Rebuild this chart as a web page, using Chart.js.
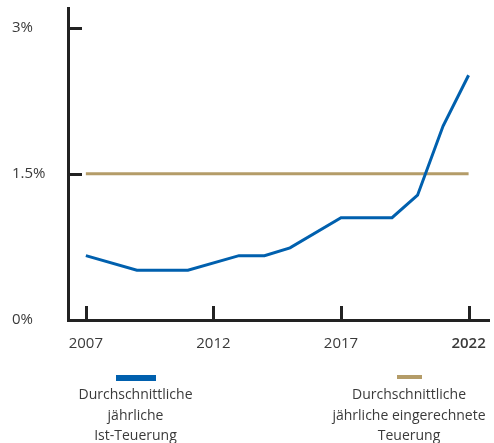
<!DOCTYPE html>
<html>
<head>
<meta charset="utf-8">
<script src="https://cdn.jsdelivr.net/npm/chart.js@4"></script>
<style>
  html, body { margin: 0; padding: 0; background: #fff; }
  #wrap { position: relative; width: 494px; height: 443px; }
  #chart { position: absolute; left: 0; top: 0; }
  .legend { position: absolute; top: 375px; text-align: center; font-family: 'Open Sans', sans-serif;
            font-size: 14px; line-height: 20.5px; color: #3a3a3a; }
  .legend .swatch { margin: 0 auto 3px auto; }
</style>
</head>
<body>
<div id="wrap">
  <canvas id="chart" width="494" height="443"></canvas>
  <div class="legend" style="left:55px; width:161px;">
    <div class="swatch" style="width:40px; height:6px; background:#0060AE;"></div>
    <div>Durchschnittliche<br>jährliche<br>Ist-Teuerung</div>
  </div>
  <div class="legend" style="left:319px; width:180px; top:375px;">
    <div class="swatch" style="width:25px; height:4px; background:#B49C68; margin-bottom:5px;"></div>
    <div>Durchschnittliche<br>jährliche eingerechnete<br>Teuerung</div>
  </div>
</div>
<script>
// ─── Data ────────────────────────────────────────────────────────
const actualYears = [2007, 2009, 2011, 2013, 2014, 2015, 2017, 2019, 2020, 2021, 2022];
const actualValues = [0.66, 0.51, 0.51, 0.66, 0.66, 0.74, 1.05, 1.05, 1.28, 1.99, 2.51];
const assumedYears = [2007, 2022];
const assumedValues = [1.5, 1.5];
const xTickYears = [2007, 2012, 2017, 2022];
const yTickValues = [0, 1.5, 3];
const yTickLabels = ['0%', '1.5%', '3%'];

const BLUE = '#0060AE';
const TAN = '#B49C68';
const AXIS = '#222222';

// ─── Inward tick marks ───────────────────────────────────────────
const innerTicks = {
    id: 'innerTicks',
    afterDraw(chart) {
        const { ctx, scales: { x, y } } = chart;
        ctx.save();
        ctx.strokeStyle = AXIS;
        ctx.lineWidth = 3;
        ctx.beginPath();
        xTickYears.forEach(v => {
            const px = Math.round(x.getPixelForValue(v)) + 0.5;
            ctx.moveTo(px, y.bottom);
            ctx.lineTo(px, y.bottom - 14);
        });
        yTickValues.filter(v => v > 0).forEach(v => {
            const py = Math.round(y.getPixelForValue(v)) + 0.5;
            ctx.moveTo(x.left, py);
            ctx.lineTo(x.left + 14, py);
        });
        ctx.stroke();
        ctx.restore();
    }
};

const tickFont = { family: "'Open Sans', sans-serif", size: 15 };

new Chart(document.getElementById('chart'), {
    type: 'line',
    data: {
        datasets: [
            {
                label: 'Durchschnittliche jährliche Ist-Teuerung',
                data: actualYears.map((yr, i) => ({ x: yr, y: actualValues[i] })),
                borderColor: BLUE,
                borderWidth: 3,
                pointRadius: 0,
                tension: 0
            },
            {
                label: 'Durchschnittliche jährliche eingerechnete Teuerung',
                data: assumedYears.map((yr, i) => ({ x: yr, y: assumedValues[i] })),
                borderColor: TAN,
                borderWidth: 3,
                pointRadius: 0
            }
        ]
    },
    options: {
        responsive: false,
        animation: false,
        events: [],
        layout: { padding: { left: 12, top: 8, right: 5, bottom: 81 } },
        plugins: { legend: { display: false }, tooltip: { enabled: false } },
        scales: {
            x: {
                type: 'linear',
                min: 2006.3,
                max: 2022.8,
                afterBuildTicks: s => { s.ticks = xTickYears.map(v => ({ value: v })); },
                afterFit: s => { s.height = 42; s.paddingLeft = 0; s.paddingRight = 0; },
                grid: { display: false, drawTicks: false },
                border: { display: true, color: AXIS, width: 3 },
                ticks: {
                    padding: 15,
                    color: '#3a3a3a',
                    maxRotation: 0,
                    autoSkip: false,
                    callback: v => String(v),
                    font: c => ({ ...tickFont, weight: c.tick && c.tick.value === 2022 ? '600' : 'normal' })
                }
            },
            y: {
                min: 0,
                max: 3.2,
                afterBuildTicks: s => { s.ticks = yTickValues.map(v => ({ value: v })); },
                afterFit: s => { s.width = 56; s.paddingTop = 0; s.paddingBottom = 0; },
                grid: { display: false, drawTicks: false },
                border: { display: true, color: AXIS, width: 3 },
                ticks: {
                    crossAlign: 'far',
                    color: '#3a3a3a',
                    font: tickFont,
                    callback: v => yTickLabels[yTickValues.indexOf(v)]
                }
            }
        }
    },
    plugins: [innerTicks]
});
</script>
</body>
</html>
